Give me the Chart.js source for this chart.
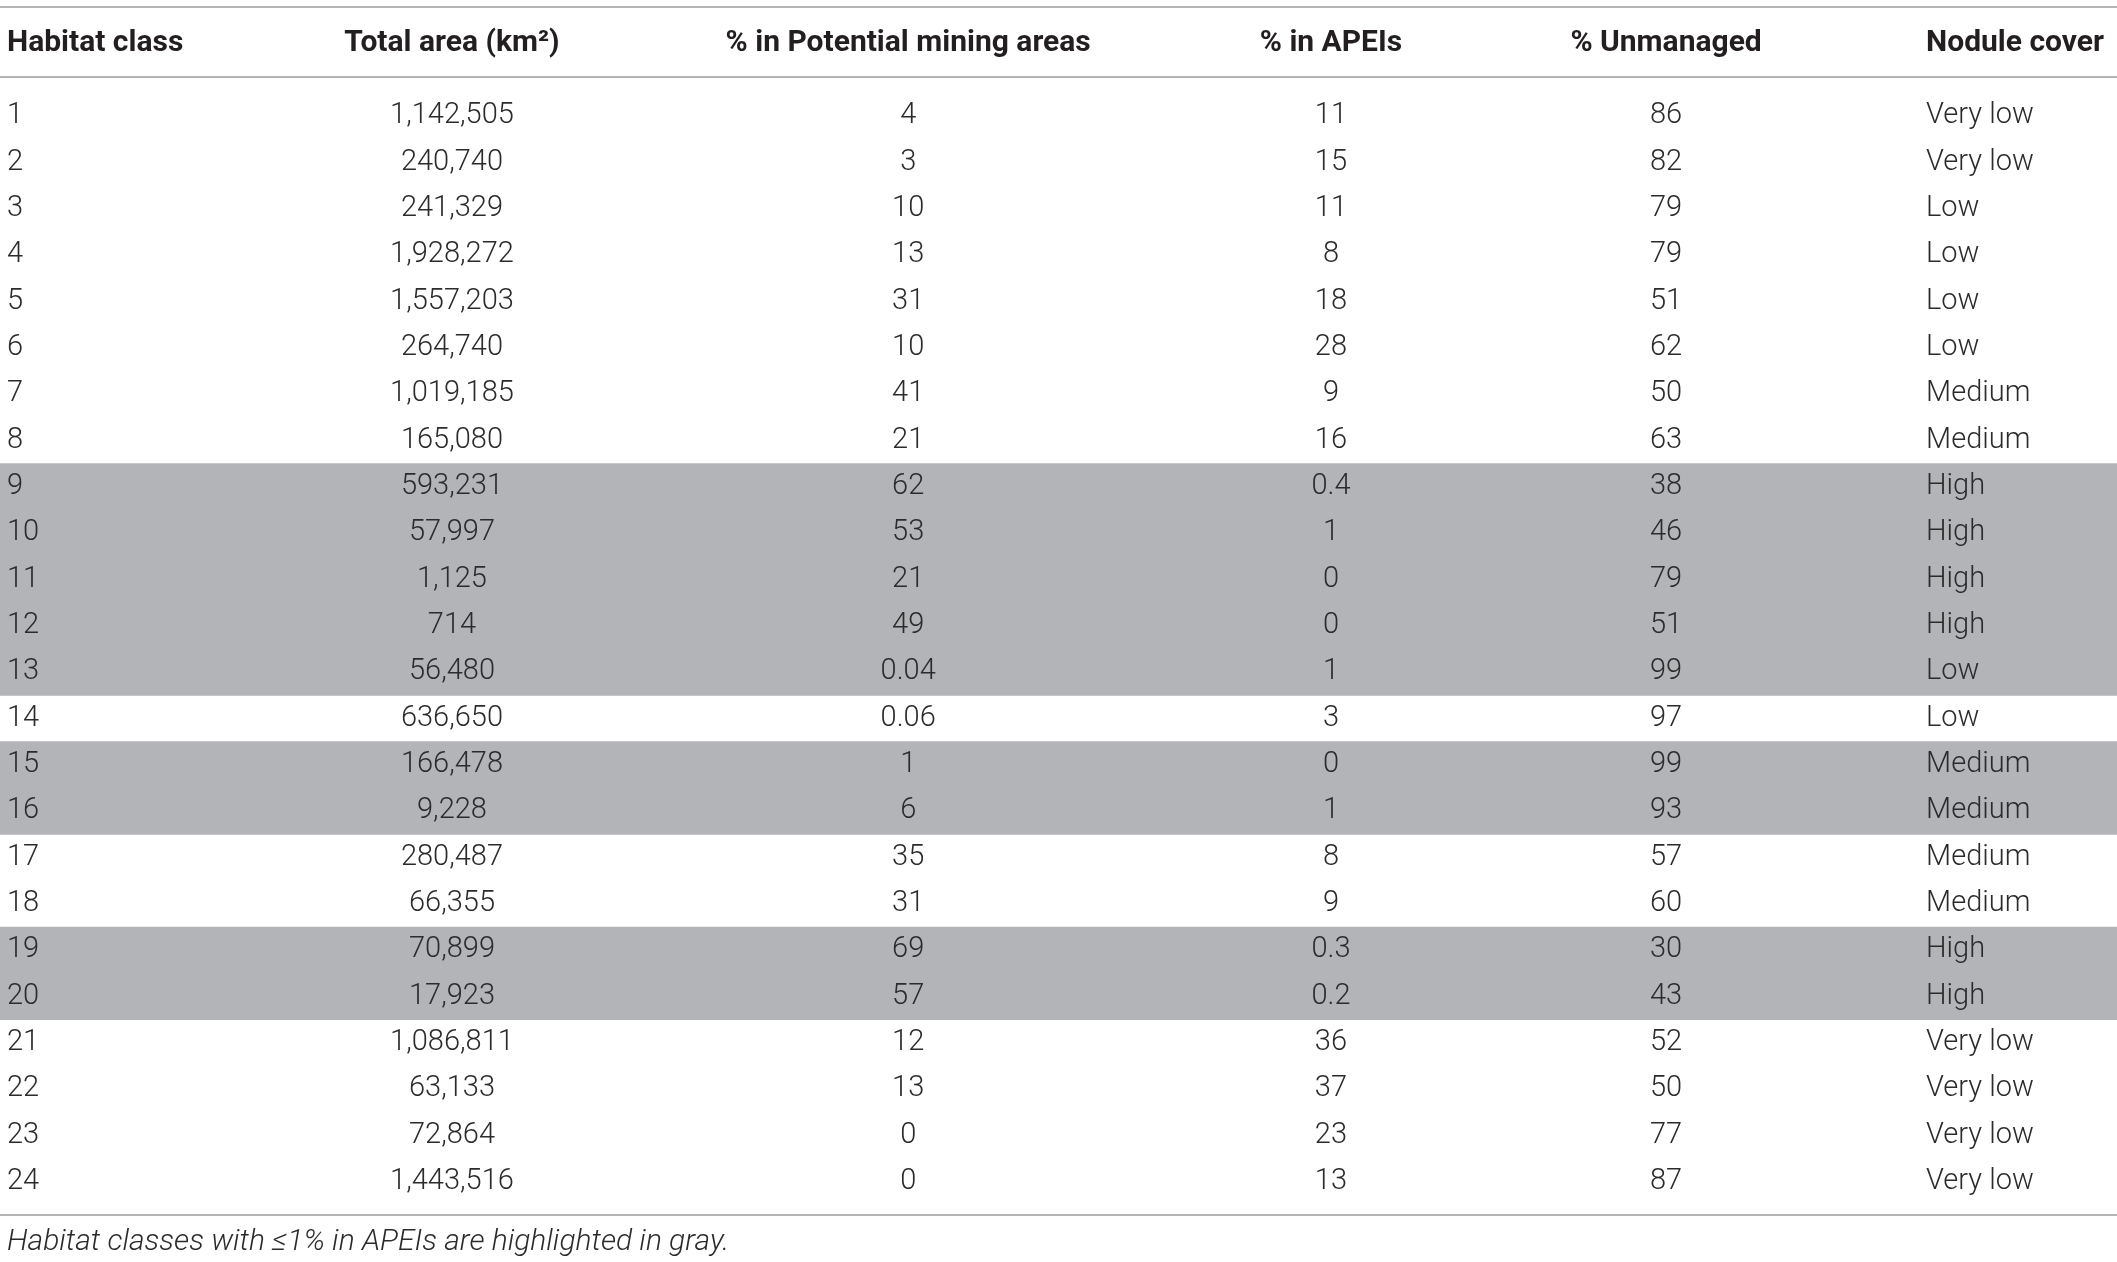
<!DOCTYPE html>
<html>
<head>
<meta charset="utf-8">
<script src="https://cdn.jsdelivr.net/npm/chart.js@4/dist/chart.umd.min.js"></script>
<style>
  html, body { margin: 0; padding: 0; background: #fff; }
  #wrap { width: 2117px; height: 1262px; position: relative; }
</style>
</head>
<body>
<div id="wrap"><canvas id="tabela"></canvas></div>
<script>
// Dados da tabela
const headers = ['Habitat class', 'Total area (km²)', '% in Potential mining areas', '% in APEIs', '% Unmanaged', 'Nodule cover'];
const habitatClass = ['1','2','3','4','5','6','7','8','9','10','11','12','13','14','15','16','17','18','19','20','21','22','23','24'];
const totalArea = ['1,142,505','240,740','241,329','1,928,272','1,557,203','264,740','1,019,185','165,080','593,231','57,997','1,125','714','56,480','636,650','166,478','9,228','280,487','66,355','70,899','17,923','1,086,811','63,133','72,864','1,443,516'];
const pctMining = ['4','3','10','13','31','10','41','21','62','53','21','49','0.04','0.06','1','6','35','31','69','57','12','13','0','0'];
const pctApei = ['11','15','11','8','18','28','9','16','0.4','1','0','0','1','3','0','1','8','9','0.3','0.2','36','37','23','13'];
const pctUnmanaged = ['86','82','79','79','51','62','50','63','38','46','79','51','99','97','99','93','57','60','30','43','52','50','77','87'];
const noduleCover = ['Very low','Very low','Low','Low','Low','Low','Medium','Medium','High','High','High','High','Low','Low','Medium','Medium','Medium','Medium','High','High','Very low','Very low','Very low','Very low'];
const highlighted = ['9','10','11','12','13','15','16','19','20'];
const caption = 'Habitat classes with ≤1% in APEIs are highlighted in gray.';

const columns = [habitatClass, totalArea, pctMining, pctApei, pctUnmanaged, noduleCover];
// posição das colunas (escala x de 0 a 100) e alinhamento
const colX = [0.33, 21.35, 42.9, 62.87, 78.7, 90.98];
const colAlign = ['left', 'center', 'center', 'center', 'center', 'left'];

const faixas = habitatClass.map(c => highlighted.includes(c) ? [0, 100] : null);

const desenhaTabela = {
  id: 'desenhaTabela',
  beforeDatasetsDraw(chart) {
    const { ctx, chartArea } = chart;
    const y = chart.scales.y;
    const h = y.getPixelForValue(1) - y.getPixelForValue(0);
    ctx.save();
    ctx.strokeStyle = '#b4b4b4';
    ctx.lineWidth = 2;
    const linha = (py) => {
      ctx.beginPath();
      ctx.moveTo(0, py);
      ctx.lineTo(chart.width, py);
      ctx.stroke();
    };
    linha(chartArea.top - 86);
    linha(chartArea.top - 16);
    linha(y.getPixelForValue(habitatClass.length - 1) + h / 2 + 10);
    ctx.restore();
  },
  afterDatasetsDraw(chart) {
    const { ctx, chartArea } = chart;
    const x = chart.scales.x;
    const y = chart.scales.y;
    const h = y.getPixelForValue(1) - y.getPixelForValue(0);
    ctx.save();
    ctx.textBaseline = 'middle';

    // cabeçalho
    ctx.fillStyle = '#231f20';
    ctx.font = 'bold 30px Roboto';
    headers.forEach((t, i) => {
      ctx.textAlign = colAlign[i];
      ctx.fillText(t, x.getPixelForValue(colX[i]), chartArea.top - 50);
    });

    // linhas
    ctx.fillStyle = '#2b2b2b';
    ctx.font = '300 29px Roboto';
    columns.forEach((col, i) => {
      ctx.textAlign = colAlign[i];
      const px = x.getPixelForValue(colX[i]);
      col.forEach((v, r) => {
        ctx.fillText(v, px, y.getPixelForValue(r));
      });
    });

    // nota
    ctx.textAlign = 'left';
    ctx.font = 'italic 300 30px Roboto';
    ctx.fillStyle = '#2b2b2b';
    ctx.fillText(caption, 7, y.getPixelForValue(habitatClass.length - 1) + h / 2 + 37);
    ctx.restore();
  }
};

new Chart(document.getElementById('tabela').getContext('2d'), {
  type: 'bar',
  data: {
    labels: habitatClass,
    datasets: [{
      data: faixas,
      backgroundColor: '#b3b4b7',
      borderWidth: 0,
      barPercentage: 1,
      categoryPercentage: 1
    }]
  },
  options: {
    indexAxis: 'y',
    responsive: true,
    maintainAspectRatio: false,
    animation: false,
    events: [],
    layout: { padding: { top: 93, bottom: 57, left: 0, right: 0 } },
    plugins: { legend: { display: false }, tooltip: { enabled: false } },
    scales: {
      x: { min: 0, max: 100, display: false },
      y: { display: false, offset: true, grid: { display: false } }
    }
  },
  plugins: [desenhaTabela]
});
</script>
</body>
</html>
